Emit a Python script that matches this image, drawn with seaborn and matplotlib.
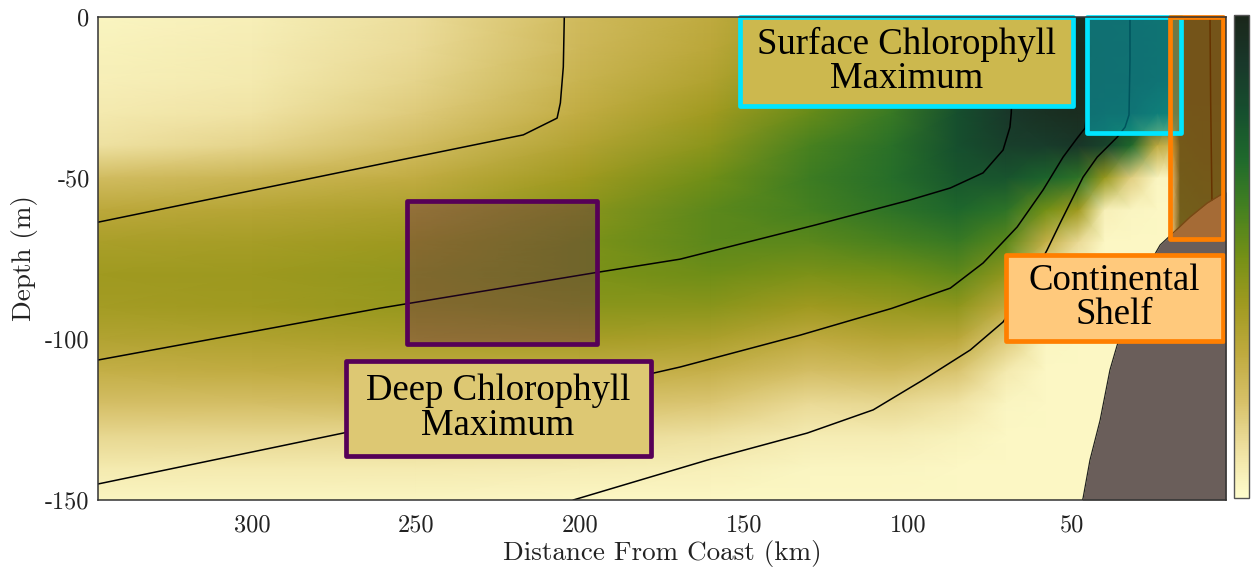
import numpy as np
import matplotlib
matplotlib.use("Agg")
import matplotlib.pyplot as plt
from matplotlib.patches import Rectangle
import seaborn as sns

# ---------------------------------------------------------------- data
# Cross-shelf section: distance offshore (km) and depth (m)
distance_km = [347, 300, 250, 200, 160, 130, 105, 85, 70, 58, 48, 40, 32, 24, 20, 17, 10, 3]
depth_m = [0, -10, -20, -30, -40, -50, -60, -70, -80, -90, -100, -110, -120, -130, -140, -150]

# Normalised chlorophyll, one vertical profile (surface -> 150 m) per distance
chl_profiles = [
    [0.03, 0.04, 0.05, 0.07, 0.10, 0.22, 0.31, 0.37, 0.40, 0.39, 0.34, 0.28, 0.21, 0.13, 0.07, 0.03],  # 347
    [0.05, 0.06, 0.07, 0.09, 0.14, 0.25, 0.33, 0.38, 0.41, 0.40, 0.35, 0.29, 0.21, 0.13, 0.07, 0.03],  # 300
    [0.11, 0.12, 0.14, 0.17, 0.22, 0.29, 0.36, 0.41, 0.43, 0.42, 0.37, 0.30, 0.22, 0.13, 0.07, 0.03],  # 250
    [0.23, 0.24, 0.26, 0.29, 0.34, 0.40, 0.45, 0.48, 0.48, 0.45, 0.38, 0.29, 0.20, 0.12, 0.06, 0.02],  # 200
    [0.30, 0.32, 0.35, 0.40, 0.45, 0.51, 0.55, 0.55, 0.51, 0.45, 0.36, 0.27, 0.18, 0.10, 0.05, 0.02],  # 160
    [0.40, 0.43, 0.47, 0.53, 0.59, 0.62, 0.60, 0.55, 0.48, 0.40, 0.30, 0.21, 0.12, 0.06, 0.03, 0.02],  # 130
    [0.52, 0.55, 0.59, 0.63, 0.67, 0.68, 0.66, 0.59, 0.50, 0.42, 0.33, 0.23, 0.13, 0.06, 0.03, 0.02],  # 105
    [0.70, 0.73, 0.77, 0.80, 0.80, 0.77, 0.71, 0.63, 0.54, 0.44, 0.32, 0.19, 0.09, 0.04, 0.02, 0.02],  # 85
    [0.86, 0.88, 0.90, 0.90, 0.87, 0.78, 0.66, 0.55, 0.43, 0.30, 0.17, 0.07, 0.03, 0.02, 0.02, 0.02],  # 70
    [0.93, 0.94, 0.95, 0.94, 0.88, 0.72, 0.50, 0.28, 0.10, 0.04, 0.03, 0.02, 0.02, 0.02, 0.02, 0.02],  # 58
    [0.96, 0.97, 0.97, 0.96, 0.91, 0.66, 0.40, 0.12, 0.03, 0.02, 0.02, 0.02, 0.02, 0.02, 0.02, 0.02],  # 48
    [0.96, 0.96, 0.96, 0.94, 0.85, 0.42, 0.05, 0.02, 0.02, 0.02, 0.02, 0.02, 0.02, 0.02, 0.02, 0.02],  # 40
    [0.95, 0.95, 0.95, 0.93, 0.70, 0.16, 0.03, 0.02, 0.02, 0.02, 0.02, 0.02, 0.02, 0.02, 0.02, 0.02],  # 32
    [0.94, 0.94, 0.93, 0.85, 0.30, 0.03, 0.02, 0.02, 0.02, 0.02, 0.02, 0.02, 0.02, 0.02, 0.02, 0.02],  # 24
    [0.93, 0.93, 0.92, 0.82, 0.25, 0.03, 0.02, 0.02, 0.02, 0.02, 0.02, 0.02, 0.02, 0.02, 0.02, 0.02],  # 20
    [0.90, 0.90, 0.90, 0.88, 0.86, 0.84, 0.82, 0.80, 0.78, 0.76, 0.74, 0.72, 0.70, 0.70, 0.70, 0.70],  # 17
    [0.90, 0.90, 0.90, 0.89, 0.88, 0.86, 0.84, 0.82, 0.80, 0.78, 0.76, 0.74, 0.72, 0.72, 0.72, 0.72],  # 10
    [0.90, 0.90, 0.90, 0.89, 0.88, 0.86, 0.84, 0.82, 0.80, 0.78, 0.76, 0.74, 0.72, 0.72, 0.72, 0.72],  # 3
]

# Density contours (distance km, depth m)
line_a_km = [346.9, 254.8, 217.3, 207.0, 206.0, 205.1, 204.8]
line_a_m = [-63.7, -44.4, -36.6, -31.4, -26.7, -15.5, 0.0]
line_b_km = [346.9, 260.9, 196.0, 169.5, 128.3, 100.0, 87.1, 77.1, 71.0, 68.9, 68.5, 68.2, 68.2]
line_b_m = [-106.5, -90.4, -79.5, -75.2, -64.6, -57.0, -53.1, -48.4, -41.3, -34.2, -29.8, -19.6, 0.0]
line_c_km = [346.9, 272.2, 177.7, 169.5, 132.9, 105.0, 87.1, 77.1, 66.7, 58.8, 52.7, 48.4, 46.0, 45.1, 45.1]
line_c_m = [-145.0, -129.2, -110.6, -108.7, -98.8, -90.5, -84.2, -76.4, -65.2, -53.7, -43.5, -37.6,
            -34.5, -25.8, 0.0]
line_d_km = [202.1, 161.2, 130.7, 110.6, 95.4, 81.0, 71.0, 63.4, 57.6, 53.6, 46.6, 42.3, 36.2, 33.8,
             32.6, 32.3, 32.3]
line_d_m = [-150.0, -137.6, -129.2, -122.0, -112.7, -103.4, -94.7, -83.2, -72.4, -64.0, -49.7, -43.5,
            -37.3, -34.2, -30.4, -13.4, 0.0]
line_e_km = [7.9, 7.7, 7.3]
line_e_m = [0.0, -26.0, -57.0]

# Sea floor
shelf_km = [46.8, 46.6, 44.5, 41.4, 38.4, 36.2, 29.2, 23.1, 19.2, 14.0, 8.8, 4.8, 3.0]
shelf_m = [-150.0, -149.4, -137.6, -125.2, -109.6, -101.9, -81.7, -70.8, -67.1, -62.1, -57.8, -55.3, -54.3]

x_ticks = [300, 250, 200, 150, 100, 50]
y_ticks = [0, -50, -100, -150]
cbar_ticks = [0.2, 0.32, 0.44, 0.56, 0.67, 0.79, 0.91]

# Highlighted regions: (km_near, km_far, depth_bottom, depth_top)
scm_region = (16.6, 45.5, -35.9, 0.0)
shelf_region = (3.8, 20.2, -68.8, 0.0)
dcm_region = (194.7, 252.9, -101.4, -57.0)
scm_label_box = (49.7, 151.2, -27.5, 0.0)
shelf_label_box = (3.8, 70.2, -100.5, -73.8)
dcm_label_box = (178.5, 271.5, -136.2, -106.7)

scm_text = "Surface Chlorophyll\nMaximum"
shelf_text = "Continental\nShelf"
dcm_text = "Deep Chlorophyll\nMaximum"

# ---------------------------------------------------------------- style
sns.set_theme(style="white")
plt.rcParams["font.family"] = ["cmr10", "DejaVu Serif"]
plt.rcParams["axes.unicode_minus"] = False
plt.rcParams["axes.formatter.use_mathtext"] = False

speed = sns.blend_palette(
    ["#FFFDCD", "#EEE0A0", "#D6C068", "#BFAA3E", "#A09A20", "#749016",
     "#448020", "#1F6A2C", "#164F2E", "#19382A", "#1A261A"],
    as_cmap=True,
)

CYAN = "#00E5FF"
ORANGE = "#FF7F00"
PURPLE = "#560057"
SEAFLOOR = "#6A5E5A"

fig = plt.figure(figsize=(12.53, 5.75), dpi=100)
ax = fig.add_axes([0.0782, 0.1304, 0.9003, 0.8400])
cax = fig.add_axes([0.9848, 0.1339, 0.0120, 0.8400])

# chlorophyll section
X, Y = np.meshgrid(distance_km, depth_m)
C = np.array(chl_profiles).T
mesh = ax.pcolormesh(X, Y, C, cmap=speed, vmin=0, vmax=1, shading="gouraud", zorder=1)

# contours
for xs, ys in [(line_a_km, line_a_m), (line_b_km, line_b_m), (line_c_km, line_c_m),
               (line_d_km, line_d_m), (line_e_km, line_e_m)]:
    sns.lineplot(x=xs, y=ys, sort=False, estimator=None, color="black", linewidth=1.1, ax=ax, zorder=2)

# sea floor
ax.fill_between(shelf_km, shelf_m, -150, color=SEAFLOOR, linewidth=0, zorder=3)
sns.lineplot(x=shelf_km, y=shelf_m, sort=False, estimator=None, color="#222222", linewidth=0.9, ax=ax, zorder=3)


def box(spec, edge, face, alpha, z):
    x0, x1, y0, y1 = spec
    ax.add_patch(Rectangle((x0, y0), x1 - x0, y1 - y0, facecolor=face, alpha=alpha,
                           edgecolor="none", zorder=z, clip_on=False))
    ax.add_patch(Rectangle((x0, y0), x1 - x0, y1 - y0, facecolor="none", edgecolor=edge,
                           linewidth=3.4, zorder=z + 0.1, clip_on=False, joinstyle="round"))


def label(spec, text, edge, face):
    box(spec, edge, face, 1.0, 5)
    x0, x1, y0, y1 = spec
    ax.text((x0 + x1) / 2, (y0 + y1) / 2, text, ha="center", va="center", fontsize=26.5,
            family="Liberation Serif", linespacing=1.0, color="black", zorder=6)


box(dcm_region, PURPLE, PURPLE, 0.30, 4)
box(scm_region, CYAN, CYAN, 0.37, 4)
box(shelf_region, ORANGE, ORANGE, 0.40, 4)
label(scm_label_box, scm_text, CYAN, "#CCB84E")
label(shelf_label_box, shelf_text, ORANGE, "#FFC97C")
label(dcm_label_box, dcm_text, PURPLE, "#DDC873")

# axes
ax.set_xlim(347, 3)
ax.set_ylim(-150, 0)
ax.set_xticks(x_ticks)
ax.set_yticks(y_ticks)
ax.tick_params(axis="both", length=0, labelsize=17.5, colors="#222222")
ax.tick_params(axis="x", pad=10)
ax.tick_params(axis="y", pad=6)
ax.set_xlabel("Distance From Coast (km)", fontsize=19.5, color="#222222", labelpad=3)
ax.set_ylabel("Depth (m)", fontsize=19.5, color="#222222", labelpad=5)
for s in ax.spines.values():
    s.set_visible(True)
    s.set_color("#333333")
    s.set_linewidth(1.1)
    s.set_zorder(7)

cb = fig.colorbar(mesh, cax=cax, ticks=cbar_ticks)
cb.ax.set_yticklabels([])
cb.ax.tick_params(direction="in", length=4, width=0.8, color="#333333", right=True, left=False)
cb.outline.set_edgecolor("#555555")
cb.outline.set_linewidth(1.0)

fig.savefig("out.png", dpi=100)
